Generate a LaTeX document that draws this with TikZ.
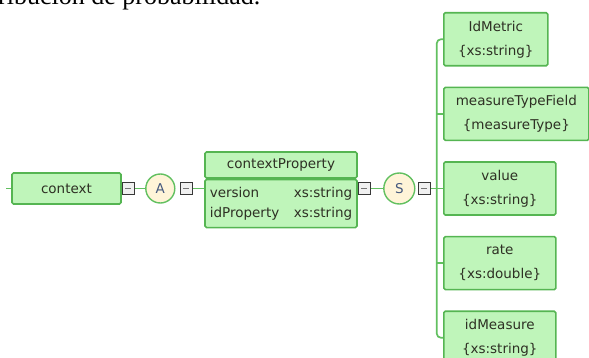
\documentclass[tikz,border=0pt]{standalone}
\usepackage{fontspec}
\setmainfont{DejaVu Sans}
\newfontfamily\docfont{Liberation Serif}
\usepackage{xcolor}
\usetikzlibrary{positioning, calc, shapes.geometric}
\definecolor{cFill}{HTML}{BFF5BA}
\definecolor{cEdge}{HTML}{55B552}
\definecolor{cLink}{HTML}{62C060}
\definecolor{cCream}{HTML}{FFF4D8}
\definecolor{cInk}{HTML}{2E3024}
\definecolor{cLetter}{HTML}{44587E}
\definecolor{cKnob}{HTML}{383838}
\tikzset{
  elem/.style={rectangle, rounded corners=1.5pt, draw=cEdge, line width=1.6pt, fill=cFill,
    text=cInk, font=\fontsize{13.5}{24}\selectfont, align=center, inner xsep=12pt, inner ysep=0pt,
    minimum height=53pt, minimum width=112pt},
  head/.style={rectangle, rounded corners=1.5pt, draw=cEdge, line width=1.6pt, fill=cFill,
    text=cInk, font=\fontsize{13.5}{20}\selectfont, inner sep=0pt, minimum width=152pt},
  comp/.style={circle, draw=cLink, line width=1.4pt, fill=cCream, inner sep=0pt, minimum size=#1,
    text=cLetter, font=\fontsize{13.5}{16}\selectfont},
  knob/.style={rectangle, draw=cKnob, line width=1.3pt, fill=gray!12, inner sep=0pt,
    minimum width=12pt, minimum height=12pt,
    path picture={\draw[cKnob!70, line width=0.9pt]
      ([xshift=-3pt]path picture bounding box.center) -- ([xshift=3pt]path picture bounding box.center);}},
  link/.style={draw=cLink, line width=1.7pt},
}
\begin{document}
\begin{tikzpicture}[x=1pt, y=-1pt, node distance=20pt]
\useasboundingbox (0,0) rectangle (589,358);
\clip (0,0) rectangle (589,358);

\node[anchor=base west, inner sep=0pt, font=\docfont\fontsize{26}{30}\selectfont] (doctext) at (-2,5) {ribución de probabilidad.};

% left chain
\node[head, minimum width=109pt, minimum height=31pt] (ctx) at (66.5,188.5) {context};
\coordinate (ctxin) at (6,188.5);
\node[knob, right=0pt of ctx] (k1) {};
\node[comp=29pt, right=10pt of k1] (all) {A};
\node[knob, right=4pt of all] (k2) {};

\node[head, minimum height=26pt] (cph) at (281,165) {contextProperty};
\node[head, minimum height=48pt, below=0pt of cph] (cpb) {%
  \begin{tabular}{@{}p{84pt}@{}l@{}}version & xs:string\\ idProperty & xs:string\end{tabular}};
\node[knob, anchor=west] (k3) at (cph.east |- k2) {};
\node[comp=31pt, right=12pt of k3] (seq) {S};
\node[knob, right=2pt of seq] (k4) {};
\coordinate[right=6pt of k4] (bus);

% sequence members
\node[elem, minimum width=104pt, anchor=north west] (idm) at (443,12) {IdMetric\\\{xs:string\}};
\node[elem, below=of idm.south west, anchor=north west] (mtf) {measureTypeField\\\{measureType\}};
\node[elem, below=of mtf.south west, anchor=north west] (val) {value\\\{xs:string\}};
\node[elem, below=of val.south west, anchor=north west] (rate) {rate\\\{xs:double\}};
\node[elem, below=of rate.south west, anchor=north west] (idms) {idMeasure\\\{xs:string\}};

\draw[link] (ctxin) -- (ctx);
\draw[link] (k1) -- (all);
\draw[link] (k2) -- (cph.west |- k2);
\draw[link] (k3) -- (seq);
\draw[link] (k4) -- (bus);
\draw[link, rounded corners=4pt] (idm.west) -| (bus) |- (idms.west);
\foreach \m in {mtf,val,rate}
  \draw[link] (bus |- \m.west) -- (\m.west);
\end{tikzpicture}
\end{document}
